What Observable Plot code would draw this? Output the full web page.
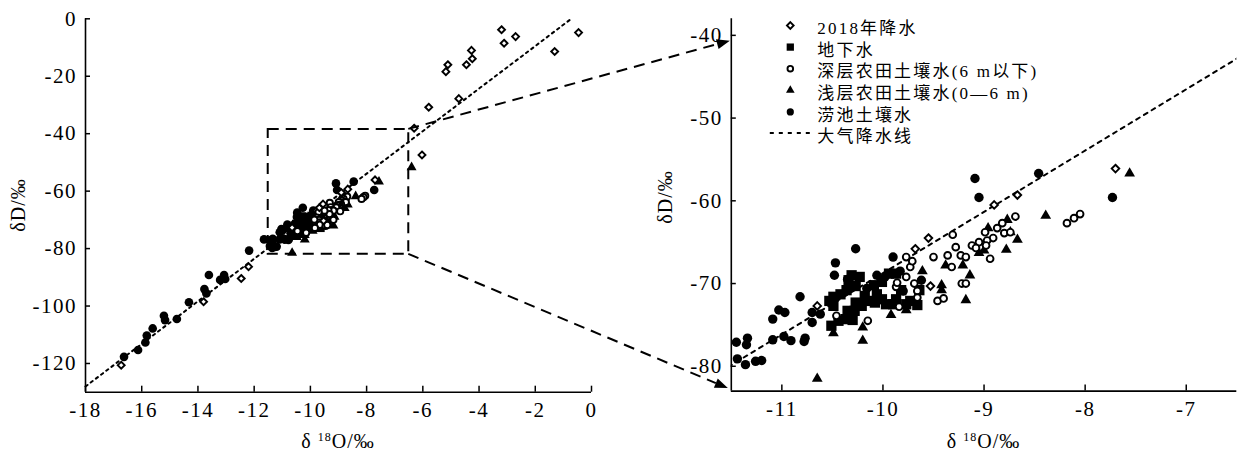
<!DOCTYPE html>
<html><head><meta charset="utf-8">
<script src="https://cdn.jsdelivr.net/npm/d3@7"></script>
<script src="https://cdn.jsdelivr.net/npm/@observablehq/plot@0.6"></script>
<style>
body{margin:0;background:#fff}
#wrap{position:relative;width:1248px;height:456px;overflow:hidden;background:#fff}
#left,#right{position:absolute;top:0}
#left{left:0}
#right{left:620px}
#overlay{position:absolute;left:0;top:0;pointer-events:none}
svg text{font-family:"Liberation Serif","Noto Sans CJK SC",serif}
</style></head><body>
<div id="wrap"><div id="left"></div><div id="right"></div><svg id="overlay" width="1248" height="456"></svg></div>
<script>
// ---------- data ----------
const seriesNames = ["2018年降水", "地下水", "深层农田土壤水(6 m以下)", "浅层农田土壤水(0—6 m)", "涝池土壤水"];
const lineName = "大气降水线";

const rain2018 = [[-16.73,-120.6],[-13.80,-98.5],[-12.46,-90.4],[-12.20,-86.3],[-10.65,-72.7],[-9.68,-65.8],[-9.55,-64.5],[-9.53,-70.3],[-8.90,-60.5],[-8.67,-59.3],[-7.70,-56.1],[-6.31,-38.1],[-6.03,-47.4],[-5.79,-30.8],[-4.72,-27.8],[-5.18,-18.4],[-5.11,-16.0],[-4.45,-16.0],[-4.24,-13.9],[-4.27,-11.0],[-3.20,-3.8],[-3.11,-8.5],[-2.70,-6.2],[-1.31,-11.4],[-0.46,-4.8]];

const groundwater = [[-10.51,-75.1],[-10.44,-74.5],[-10.53,-72.1],[-10.49,-71.6],[-10.42,-71.3],[-10.36,-70.8],[-10.34,-69.6],[-10.31,-69.0],[-10.35,-73.3],[-10.28,-73.3],[-10.27,-72.3],[-10.21,-72.7],[-10.37,-74.3],[-10.30,-74.4],[-10.49,-72.7],[-10.15,-72.1],[-10.08,-72.3],[-9.97,-72.5],[-9.90,-72.5],[-10.09,-70.2],[-10.01,-69.8],[-9.94,-68.8],[-9.87,-68.8],[-9.82,-70.8],[-9.77,-72.5],[-9.73,-72.1],[-9.64,-70.8],[-10.06,-71.3],[-10.18,-71.5],[-10.23,-69.2],[-10.27,-70.3],[-10.01,-71.9],[-9.87,-71.9],[-9.66,-72.6]];

const deepSoil = [[-8.05,-61.6],[-8.11,-62.1],[-8.18,-62.7],[-8.69,-61.9],[-8.82,-62.7],[-8.87,-63.3],[-8.80,-63.9],[-8.74,-63.8],[-8.91,-64.5],[-8.99,-63.8],[-8.97,-64.8],[-8.98,-65.4],[-9.05,-65.0],[-9.12,-65.4],[-9.08,-65.7],[-8.94,-67.0],[-9.31,-64.1],[-9.28,-65.6],[-9.23,-66.6],[-9.18,-66.8],[-9.36,-66.6],[-9.32,-68.0],[-9.50,-66.8],[-9.77,-66.8],[-9.73,-68.0],[-9.71,-67.3],[-9.77,-69.2],[-9.69,-70.0],[-9.66,-70.9],[-9.66,-71.7],[-9.87,-70.4],[-9.86,-69.9],[-9.22,-70.0],[-9.18,-70.0],[-9.46,-72.1],[-9.40,-71.8],[-10.15,-74.5],[-10.46,-73.9],[-9.84,-72.8]];

const shallowSoil = [[-7.56,-56.7],[-6.40,-51.7],[-8.39,-61.8],[-8.77,-62.3],[-8.74,-63.8],[-8.67,-64.7],[-8.78,-65.9],[-8.96,-63.3],[-9.05,-66.3],[-9.00,-66.0],[-9.21,-67.8],[-9.14,-69.0],[-9.18,-72.0],[-9.38,-67.8],[-9.42,-70.2],[-9.42,-70.8],[-9.61,-68.5],[-9.77,-73.2],[-9.92,-73.8],[-10.20,-75.3],[-10.20,-76.9],[-10.49,-76.0],[-10.65,-81.5]];

const pondSoil = [[-9.09,-57.3],[-8.46,-56.7],[-9.05,-59.6],[-7.73,-59.6],[-10.27,-65.8],[-9.90,-66.8],[-10.06,-69.0],[-9.98,-69.2],[-9.83,-68.5],[-9.62,-69.6],[-10.16,-70.6],[-9.80,-70.9],[-10.47,-67.5],[-10.48,-69.0],[-10.35,-69.5],[-10.82,-71.6],[-11.03,-73.2],[-10.97,-73.5],[-11.09,-74.3],[-10.70,-73.5],[-10.62,-73.7],[-10.70,-74.7],[-11.45,-77.1],[-11.34,-76.6],[-11.35,-77.4],[-11.09,-76.8],[-10.98,-76.4],[-10.91,-76.9],[-10.77,-76.6],[-10.78,-77.0],[-11.44,-79.1],[-11.36,-79.8],[-11.26,-79.4],[-11.20,-79.3],[-11.65,-76.8],[-12.18,-80.7],[-13.03,-90.6],[-13.07,-89.2],[-13.21,-90.9],[-13.61,-89.2],[-13.70,-95.6],[-13.77,-94.1],[-14.32,-98.7],[-14.75,-104.5],[-15.17,-104.9],[-15.21,-103.4],[-15.61,-107.8],[-15.82,-110.3],[-15.87,-112.7],[-16.13,-115.3],[-16.63,-117.7]];

// meteoric water line end points
const mwlX = [-18, -0.72];
const mwlY = [-128, 0];

// axes
const leftXDomain = [-18, 0], leftYDomain = [-130, 0];
const rightXDomain = [-11.5, -6.5], rightYDomain = [-83, -38];
const xTicksLeft = [-18,-16,-14,-12,-10,-8,-6,-4,-2,0];
const yTicksLeft = [0,-20,-40,-60,-80,-100,-120];
const xTicksRight = [-11,-10,-9,-8,-7];
const yTicksRight = [-40,-50,-60,-70,-80];
// zoom box (left panel) and arrow targets (right panel)
const boxX = [-11.5, -6.5], boxY = [-82, -38.5];
const arrowTopY = -40.7, arrowBottomY = -82.7;

// ---------- build ----------
const FONT = '"Liberation Serif","Noto Sans CJK SC",serif';
const fmt = d => String(d);
const toObj = arr => arr.map(([x, y]) => ({x, y}));
const mwl = mwlX.map((x, i) => ({x, y: mwlY[i]}));

const styles = [
  {symbol: "diamond2", r: 3.4, fill: "white", stroke: "black", strokeWidth: 1.9},
  {symbol: "square", r: 5.8, fill: "black", stroke: "none"},
  {symbol: "circle", r: 3.4, fill: "white", stroke: "black", strokeWidth: 1.9},
  {symbol: "triangle", r: 4.0, fill: "black", stroke: "none"},
  {symbol: "circle", r: 4.7, fill: "black", stroke: "none"}
];
const allSeries = [rain2018, groundwater, deepSoil, shallowSoil, pondSoil];
const drawOrder = [4, 1, 3, 2, 0];

function dotMarks(filter, k) {
  return drawOrder.map(i => Plot.dot(toObj(allSeries[i]).filter(filter), {x: "x", y: "y", ...styles[i], r: styles[i].r * k}));
}

const TICK_FS = 21;

const leftPlot = Plot.plot({
  width: 620, height: 456,
  marginLeft: 85, marginRight: 29, marginTop: 18.3, marginBottom: 64.3,
  x: {domain: leftXDomain},
  y: {domain: leftYDomain},
  style: {fontFamily: FONT, fontSize: TICK_FS + "px", background: "transparent", overflow: "visible", color: "black"},
  marks: [
    Plot.ruleX([leftXDomain[0]], {strokeWidth: 1.6}),
    Plot.ruleY([leftYDomain[0]], {strokeWidth: 1.6}),
    Plot.axisX({ticks: xTicksLeft, tickSize: 6, dy: -6, tickPadding: 10, tickFormat: fmt, label: null, fontSize: TICK_FS, strokeWidth: 1.5}),
    Plot.axisY({ticks: yTicksLeft, tickSize: 5, dx: 5, tickPadding: 8.5, tickFormat: fmt, label: null, fontSize: TICK_FS, strokeWidth: 1.5}),
    Plot.rect([{x1: boxX[0], x2: boxX[1], y1: boxY[0], y2: boxY[1]}], {x1: "x1", x2: "x2", y1: "y1", y2: "y2", fill: "none", stroke: "black", strokeWidth: 2, strokeDasharray: "11,7"}),
    Plot.line(mwl, {x: "x", y: "y", stroke: "black", strokeWidth: 2, strokeDasharray: "2.5,4"}),
    ...dotMarks(() => true, 0.92)
  ]
});

const inRight = d => d.x >= rightXDomain[0] && d.x <= rightXDomain[1] && d.y >= rightYDomain[0] && d.y <= rightYDomain[1];

const legendDy0 = 6.7, legendStep = 21.6, legendFS = 17;
const legendSizes = [3.0, 4.1, 2.8, 3.2, 3.6];
const legendMarks = styles.map((s, i) => Plot.dot([0], {frameAnchor: "top-left", dx: 59, dy: legendDy0 + i * legendStep, ...s, r: legendSizes[i]}));

const rightPlot = Plot.plot({
  width: 628, height: 456,
  marginLeft: 110.8, marginRight: 11.7, marginTop: 18.3, marginBottom: 65.4,
  x: {domain: rightXDomain},
  y: {domain: rightYDomain},
  style: {fontFamily: FONT, fontSize: TICK_FS + "px", background: "transparent", overflow: "visible", color: "black"},
  marks: [
    Plot.ruleX([rightXDomain[0]], {strokeWidth: 1.6}),
    Plot.ruleY([rightYDomain[0]], {strokeWidth: 1.6}),
    Plot.axisX({ticks: xTicksRight, tickSize: 6, dy: -6, tickPadding: 10, tickFormat: fmt, label: null, fontSize: TICK_FS, strokeWidth: 1.5}),
    Plot.axisY({ticks: yTicksRight, tickSize: 5, dx: 5, tickPadding: 8.5, tickFormat: fmt, label: null, fontSize: TICK_FS, strokeWidth: 1.5}),
    Plot.line(mwl, {x: "x", y: "y", stroke: "black", strokeWidth: 2, strokeDasharray: "4,5", clip: true}),
    ...dotMarks(inRight, 1),
    ...legendMarks,
    Plot.text([[...seriesNames, lineName].join("\n")], {frameAnchor: "top-left", dx: 86, dy: 0, lineAnchor: "top", textAnchor: "start", lineHeight: legendStep / legendFS, fontSize: legendFS, fill: "black"})
  ]
});

document.getElementById("left").appendChild(leftPlot);
document.getElementById("right").appendChild(rightPlot);

// letter spacing (inline so it always applies)
d3.selectAll([leftPlot, rightPlot]).selectAll("text").style("letter-spacing", "1.5px");
d3.select(rightPlot).selectAll("text").filter(function() { return this.textContent.includes(lineName); }).style("letter-spacing", "2.2px");

// ---------- overlay: connectors, titles, legend line ----------
const ov = d3.select("#overlay");
const lx = leftPlot.scale("x"), ly = leftPlot.scale("y");
const rx = rightPlot.scale("x"), ry = rightPlot.scale("y");
const RX0 = 620;
const connectors = [
  {from: [lx.apply(boxX[1]), ly.apply(boxY[1])], to: [RX0 + rx.apply(rightXDomain[0]) - 1, ry.apply(arrowTopY)]},
  {from: [lx.apply(boxX[1]), ly.apply(boxY[0])], to: [RX0 + rx.apply(rightXDomain[0]) - 3, ry.apply(arrowBottomY)]}
];
const AL = 13, AW = 5;
for (const c of connectors) {
  const [x0, y0] = c.from, [x1, y1] = c.to;
  const len = Math.hypot(x1 - x0, y1 - y0);
  const ux = (x1 - x0) / len, uy = (y1 - y0) / len;
  const bx = x1 - AL * ux, by = y1 - AL * uy;
  ov.append("line").attr("x1", x0).attr("y1", y0).attr("x2", bx).attr("y2", by)
    .attr("stroke", "black").attr("stroke-width", 2).attr("stroke-dasharray", "11,7");
  ov.append("polygon").attr("points", [[x1, y1], [bx - AW * uy, by + AW * ux], [bx + AW * uy, by - AW * ux]].map(p => p.join(",")).join(" "))
    .attr("fill", "black");
}

// legend line sample
const legY = 18.3 + legendDy0 + 5 * legendStep;
ov.append("line").attr("x1", RX0 + rx.apply(rightXDomain[0]) + 39).attr("x2", RX0 + rx.apply(rightXDomain[0]) + 80)
  .attr("y1", legY).attr("y2", legY).attr("stroke", "black").attr("stroke-width", 2).attr("stroke-dasharray", "4,5");

// axis titles
function yTitle(x, y) {
  ov.append("text").attr("transform", `translate(${x},${y}) rotate(-90)`).style("letter-spacing", "1px")
    .attr("text-anchor", "middle").attr("dominant-baseline", "central").attr("font-size", 20).text("δD/‰");
}
function xTitle(x, y) {
  const t = ov.append("text").attr("x", x).attr("y", y).attr("text-anchor", "middle").attr("font-size", 20).style("letter-spacing", "1px");
  t.append("tspan").text("δ ");
  t.append("tspan").attr("font-size", 12).attr("dy", -7).text("18");
  t.append("tspan").attr("dy", 7).text("O/‰");
}
yTitle(18, (ly.apply(leftYDomain[0]) + ly.apply(leftYDomain[1])) / 2);
yTitle(665, 197);
xTitle((lx.apply(leftXDomain[0]) + lx.apply(leftXDomain[1])) / 2, 448);
xTitle(RX0 + (rx.apply(rightXDomain[0]) + rx.apply(rightXDomain[1])) / 2, 448);
</script>
</body></html>
